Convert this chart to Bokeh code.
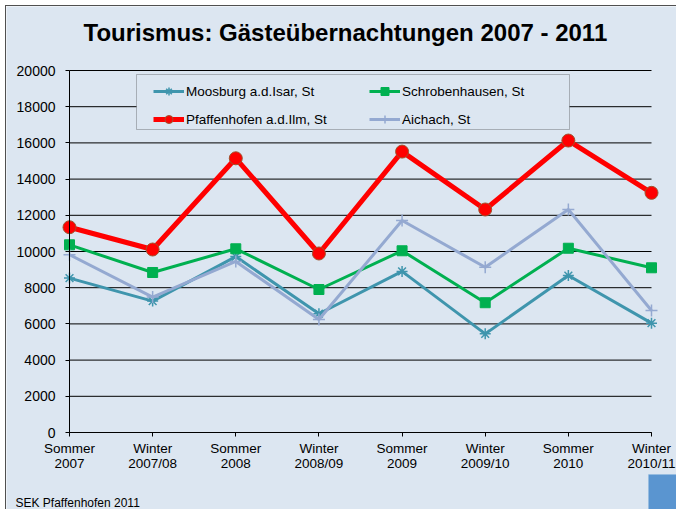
from bokeh.plotting import figure
from bokeh.models import (Range1d, FixedTicker, Legend, LegendItem,
                          BoxAnnotation, Label)
from bokeh.embed import file_html
from bokeh.resources import INLINE

periods = ["Sommer\n2007", "Winter\n2007/08", "Sommer\n2008", "Winter\n2008/09",
           "Sommer\n2009", "Winter\n2009/10", "Sommer\n2010", "Winter\n2010/11"]
moosburg = [8530, 7260, 9720, 6560, 8900, 5450, 8670, 6040]
schrobenhausen = [10370, 8840, 10150, 7900, 10040, 7170, 10180, 9100]
pfaffenhofen = [11340, 10110, 15150, 9890, 15520, 12320, 16130, 13240]
aichach = [9820, 7480, 9450, 6240, 11710, 9130, 12320, 6740]
y_ticks = [0, 2000, 4000, 6000, 8000, 10000, 12000, 14000, 16000, 18000, 20000]

FONT = "Liberation Sans"
BG = "#DCE6F1"
x = list(range(len(periods)))

# canvas / plot-area geometry in pixels
W, H = 671, 504
PL, PR, PT, PB = 63, 645, 64, 426          # plot area edges inside the canvas
n_last = len(periods) - 1
y_max = y_ticks[-1]
xs = (PR - PL) / n_last                    # px per category step
ys = (PB - PT) / y_max                     # px per unit
x_range = Range1d(-PL / xs, n_last + (W - PR) / xs)
y_range = Range1d(-(H - PB) / ys, y_max + PT / ys)

p = figure(width=W, height=H, output_backend="svg", toolbar_location=None,
           x_range=x_range, y_range=y_range, min_border=0)
p.background_fill_color = BG
p.border_fill_color = BG
p.outline_line_color = None
p.styles = {"margin-left": "5px", "margin-top": "5px",
            "border-top": "1px solid #505050", "border-left": "1px solid #505050"}
p.xgrid.grid_line_color = None
p.ygrid.grid_line_color = None

# horizontal grid lines across the plot area
p.segment(x0=[0] * len(y_ticks), x1=[n_last] * len(y_ticks), y0=y_ticks, y1=y_ticks,
          line_color="#000000", line_width=1)

p.yaxis.fixed_location = 0
p.yaxis.bounds = (0, y_max)
p.yaxis.ticker = FixedTicker(ticks=y_ticks)
p.yaxis.axis_line_color = "#000000"
p.yaxis.major_tick_line_color = "#000000"
p.yaxis.major_tick_out = 4
p.yaxis.major_tick_in = 0
p.yaxis.minor_tick_line_color = None
p.yaxis.major_label_standoff = 10
p.yaxis.major_label_text_font = FONT
p.yaxis.major_label_text_font_size = "14px"
p.yaxis.major_label_text_color = "#000000"

p.xaxis.fixed_location = 0
p.xaxis.bounds = (0, n_last)
p.xaxis.ticker = FixedTicker(ticks=x)
p.xaxis.major_label_overrides = {i: lab for i, lab in enumerate(periods)}
p.xaxis.axis_line_color = "#000000"
p.xaxis.major_tick_line_color = "#000000"
p.xaxis.major_tick_out = 4
p.xaxis.major_tick_in = 0
p.xaxis.minor_tick_line_color = None
p.xaxis.major_label_standoff = 4
p.xaxis.major_label_text_font = FONT
p.xaxis.major_label_text_font_size = "13.5px"
p.xaxis.major_label_text_color = "#000000"
p.xaxis.major_label_text_line_height = 1.0

teal, green, red, lav = "#3F95AD", "#00B050", "#FF0000", "#94A9D1"

l1 = p.line(x, moosburg, line_color=teal, line_width=3)
m1 = p.scatter(x, moosburg, marker="asterisk", size=11, line_color=teal, line_width=1.5)
l2 = p.line(x, schrobenhausen, line_color=green, line_width=3)
m2 = p.scatter(x, schrobenhausen, marker="square", size=10, fill_color=green, line_color=green)
l3 = p.line(x, pfaffenhofen, line_color=red, line_width=5)
m3 = p.scatter(x, pfaffenhofen, marker="circle", size=13, fill_color=red, line_color="#A0522D", line_width=1)
l4 = p.line(x, aichach, line_color=lav, line_width=3)
m4 = p.scatter(x, aichach, marker="cross", size=12, line_color=lav, line_width=1.5)

box = BoxAnnotation(left=130, right=563, top=436, bottom=381,
                    left_units="screen", right_units="screen",
                    top_units="screen", bottom_units="screen",
                    fill_color=BG, fill_alpha=1, line_color="#303030", line_width=1)
p.add_layout(box)

legend = Legend(items=[
    LegendItem(label="Moosburg a.d.Isar, St", renderers=[l1, m1]),
    LegendItem(label="Schrobenhausen, St", renderers=[l2, m2]),
    LegendItem(label="Pfaffenhofen a.d.Ilm, St", renderers=[l3, m3]),
    LegendItem(label="Aichach, St", renderers=[l4, m4]),
], location=(147, 381), ncols=2, orientation="horizontal")
legend.background_fill_alpha = 0
legend.border_line_color = None
legend.margin = 0
legend.padding = 4
legend.spacing = 8
legend.glyph_width = 31
legend.glyph_height = 20
legend.label_height = 20
legend.label_width = 175
legend.label_standoff = 2
legend.label_text_font = FONT
legend.label_text_font_size = "13.5px"
legend.label_text_color = "#000000"
p.add_layout(legend, "center")

title = Label(x=77, y=478, x_units="screen", y_units="screen",
              text="Tourismus: Gästeübernachtungen 2007 - 2011",
              text_font=FONT, text_font_size="24px", text_font_style="bold",
              text_align="left", text_baseline="alphabetic", text_color="#000000")
p.add_layout(title)

footer = Label(x=9, y=8, x_units="screen", y_units="screen",
               text="SEK Pfaffenhofen 2011", text_font=FONT, text_font_size="12px",
               text_align="left", text_baseline="middle", text_color="#000000")
p.add_layout(footer)

logo = BoxAnnotation(left=642, right=680, top=36, bottom=-5,
                     left_units="screen", right_units="screen",
                     top_units="screen", bottom_units="screen",
                     fill_color="#5A95D0", fill_alpha=1, line_color="#8CB8E0", line_width=1)
p.add_layout(logo)

open("out.html", "w").write(file_html(p, INLINE))
